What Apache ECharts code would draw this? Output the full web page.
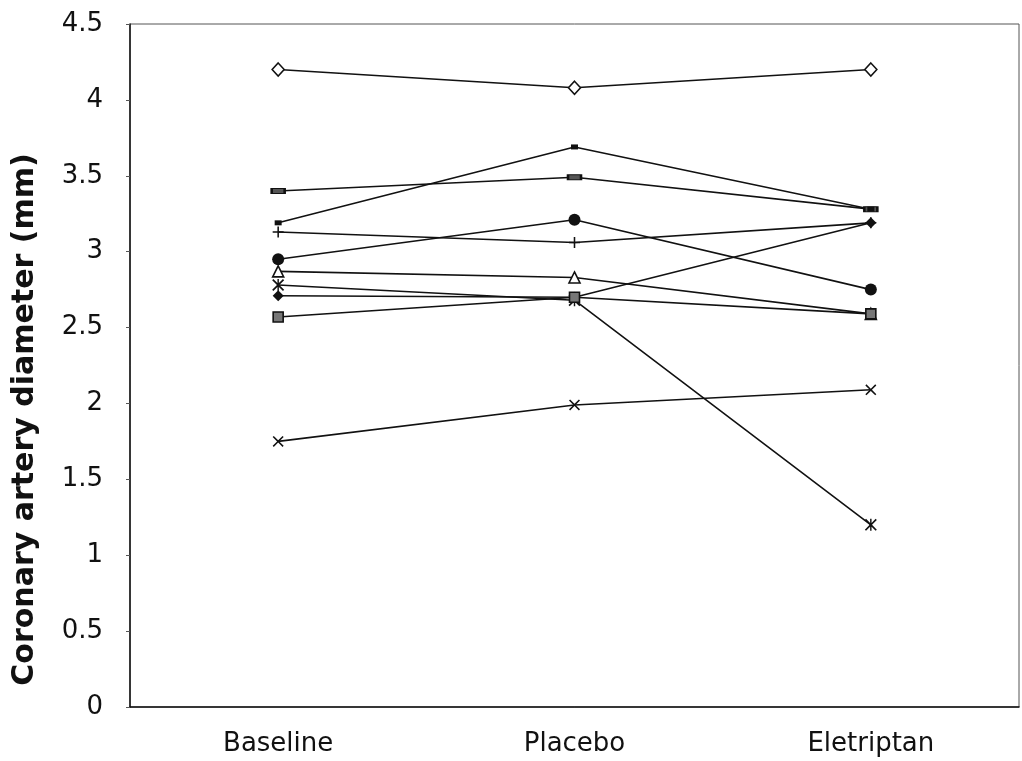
<!DOCTYPE html>
<html>
<head>
<meta charset="utf-8">
<script src="https://cdn.jsdelivr.net/npm/echarts@6/dist/echarts.min.js"></script>
<style>
  html, body { margin: 0; padding: 0; background: #fff; }
  #chart { width: 1022px; height: 761px; }
</style>
</head>
<body>
<div id="chart"></div>
<script>
const categories = ["Baseline", "Placebo", "Eletriptan"];

// one list per patient (mm)
const openDiamond = [4.2, 4.08, 4.2];
const dashRect = [3.4, 3.49, 3.28];
const smallSquare = [3.19, 3.69, 3.28];
const plusLine = [3.13, 3.06, 3.19];
const filledCircle = [2.95, 3.21, 2.75];
const openTriangle = [2.87, 2.83, 2.59];
const starLine = [2.78, 2.68, 1.2];
const filledDiamond = [2.71, 2.7, 3.19];
const hatchedSquare = [2.57, 2.7, 2.59];
const crossLine = [1.75, 1.99, 2.09];

const yTicks = { min: 0, max: 4.5, step: 0.5 };

const PLUS = "path://M4.3,0H5.7V4.3H10V5.7H5.7V10H4.3V5.7H0V4.3H4.3Z";
const CROSS = "path://M1,0L5,4L9,0L10,1L6,5L10,9L9,10L5,6L1,10L0,9L4,5L0,1Z";
const STAR = "path://M1,0L5,4L9,0L10,1L6,5L10,9L9,10L5,6L1,10L0,9L4,5L0,1Z M4.4,0H5.6V10H4.4Z";

function mk(name, data, symbol, size, fill, border) {
  return {
    name: name,
    type: "line",
    data: data,
    symbol: symbol,
    symbolSize: size,
    showSymbol: true,
    lineStyle: { color: "#111", width: 1.6 },
    itemStyle: { color: fill, borderColor: border || fill, borderWidth: border ? 1.6 : 0 },
    z: 3
  };
}

const chart = echarts.init(document.getElementById("chart"));
chart.setOption({
  animation: false,
  backgroundColor: "#fff",
  grid: {
    left: 130, right: 3, top: 24, bottom: 54,
    show: true, borderColor: "#555", borderWidth: 1
  },
  xAxis: {
    type: "category",
    data: categories,
    boundaryGap: true,
    axisLine: { lineStyle: { color: "#111", width: 1.5 } },
    axisTick: { show: false },
    axisLabel: { color: "#111", fontSize: 26, fontFamily: "DejaVu Sans", margin: 24 }
  },
  yAxis: {
    type: "value",
    min: yTicks.min,
    max: yTicks.max,
    interval: yTicks.step,
    name: "Coronary artery diameter (mm)",
    nameLocation: "middle",
    nameGap: 90,
    nameTextStyle: {
      color: "#111", fontSize: 30, fontWeight: "bold", fontFamily: "DejaVu Sans",
      padding: [0, 108, 0, 0]
    },
    axisLine: { show: true, lineStyle: { color: "#111", width: 1.5 } },
    axisTick: { show: true, length: 4, lineStyle: { color: "#555" } },
    splitLine: { show: false },
    axisLabel: { color: "#111", fontSize: 26, fontFamily: "DejaVu Sans", margin: 27 }
  },
  series: [
    mk("A", openDiamond, "diamond", [12, 13], "#fff", "#111"),
    mk("B", dashRect, "rect", [13, 5], "#555", "#111"),
    mk("C", smallSquare, "rect", [7, 5], "#111"),
    mk("D", plusLine, PLUS, 11, "#111"),
    mk("E", filledCircle, "circle", 12, "#111"),
    mk("F", openTriangle, "triangle", [11, 11], "#fff", "#111"),
    mk("G", starLine, STAR, 12, "#111"),
    mk("H", filledDiamond, "diamond", [11, 11], "#111"),
    mk("I", hatchedSquare, "rect", [10, 10], "#777", "#111"),
    mk("J", crossLine, CROSS, 11, "#111")
  ]
});
</script>
</body>
</html>
